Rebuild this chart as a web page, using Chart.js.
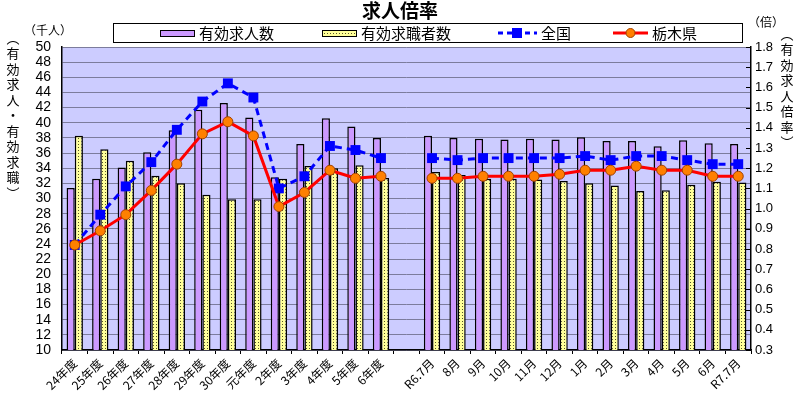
<!DOCTYPE html>
<html>
<head>
<meta charset="utf-8">
<script src="https://cdn.jsdelivr.net/npm/chart.js@4"></script>
<style>
  html, body { margin: 0; padding: 0; background: #fff; }
  #wrap { width: 800px; height: 399px; position: relative; }
</style>
</head>
<body>
<div id="wrap"><canvas id="chart" width="800" height="399"></canvas></div>
<script>
const categories = ['24年度', '25年度', '26年度', '27年度', '28年度', '29年度', '30年度', '元年度', '2年度', '3年度', '4年度', '5年度', '6年度', '',
  'R6.7月', '8月', '9月', '10月', '11月', '12月', '1月', '2月', '3月', '4月', '5月', '6月', 'R7.7月'];

// 千人
const jobOffers = [31.4, 32.6, 34.1, 36.1, 39.0, 41.7, 42.6, 40.7, 32.8, 37.2, 40.6, 39.5, 38.0, null,
  38.3, 38.0, 37.9, 37.8, 37.9, 37.8, 38.1, 37.6, 37.6, 36.9, 37.7, 37.3, 37.2];
const jobSeekers = [38.3, 36.5, 35.0, 33.0, 32.0, 30.5, 29.9, 29.9, 32.6, 34.3, 34.0, 34.4, 32.7, null,
  33.5, 33.1, 32.6, 32.6, 32.5, 32.3, 32.0, 31.7, 31.0, 31.1, 31.8, 32.2, 32.1];

// 倍
const nationalRatio = [0.82, 0.97, 1.11, 1.23, 1.39, 1.53, 1.62, 1.55, 1.10, 1.16, 1.31, 1.29, 1.25, null,
  1.25, 1.24, 1.25, 1.25, 1.25, 1.25, 1.26, 1.24, 1.26, 1.26, 1.24, 1.22, 1.22];
const tochigiRatio = [0.82, 0.89, 0.97, 1.09, 1.22, 1.37, 1.43, 1.36, 1.01, 1.08, 1.19, 1.15, 1.16, null,
  1.15, 1.15, 1.16, 1.16, 1.16, 1.17, 1.19, 1.19, 1.21, 1.19, 1.19, 1.16, 1.16];

const FONT = '"Liberation Sans", Arial, "Noto Sans CJK JP", sans-serif';
const JP_FONT = '"Noto Sans CJK JP", "Liberation Sans", sans-serif';

function makeDotPattern() {
  const c = document.createElement('canvas');
  c.width = 3;
  c.height = 3;
  const g = c.getContext('2d');
  g.fillStyle = '#FFFF99';
  g.fillRect(0, 0, 3, 3);
  g.fillStyle = '#55552a';
  g.fillRect(0, 0, 1, 1);
  return g.createPattern(c, 'repeat');
}

const ctx = document.getElementById('chart').getContext('2d');
const dotPattern = makeDotPattern();

function drawVertical(c, text, x, y, step) {
  for (let i = 0; i < text.length; i++) {
    c.fillText(text[i], x, y + i * step);
  }
}

const decorPlugin = {
  id: 'decor',
  beforeDraw(chart) {
    const { ctx: c, chartArea: a } = chart;
    c.save();
    c.fillStyle = '#CCCCFF';
    c.fillRect(a.left, a.top, a.right - a.left, a.bottom - a.top);
    c.restore();
  },
  afterDraw(chart) {
    const c = chart.ctx;
    const a = chart.chartArea;
    c.save();

    // right axis inner ticks
    const y2 = chart.scales.y2;
    c.strokeStyle = '#000';
    c.lineWidth = 1;
    y2.ticks.forEach((t) => {
      const py = Math.round(y2.getPixelForValue(t.value)) + 0.5;
      c.beginPath();
      c.moveTo(a.right - 5, py);
      c.lineTo(a.right, py);
      c.stroke();
    });

    // title
    c.fillStyle = '#000';
    c.font = 'bold 19px ' + JP_FONT;
    c.textAlign = 'center';
    c.textBaseline = 'middle';
    c.fillText('求人倍率', 400, 11);

    // legend box
    c.strokeStyle = '#000';
    c.lineWidth = 1;
    c.strokeRect(113.5, 23.5, 629, 19);
    c.font = '15px ' + JP_FONT;
    c.textAlign = 'left';
    c.textBaseline = 'middle';
    const ly = 33;

    c.fillStyle = '#CC99FF';
    c.fillRect(160, 30, 34, 6);
    c.strokeRect(160.5, 30.5, 34, 6);
    c.fillStyle = '#000';
    c.fillText('有効求人数', 199, ly);

    c.fillStyle = dotPattern;
    c.fillRect(322, 30, 34, 6);
    c.strokeRect(322.5, 30.5, 34, 6);
    c.fillStyle = '#000';
    c.fillText('有効求職者数', 361, ly);

    c.strokeStyle = '#0000FF';
    c.lineWidth = 3;
    c.setLineDash([5, 4]);
    c.beginPath();
    c.moveTo(498, ly);
    c.lineTo(537, ly);
    c.stroke();
    c.setLineDash([]);
    c.fillStyle = '#0000FF';
    c.fillRect(512, ly - 5, 10, 10);
    c.fillStyle = '#000';
    c.fillText('全国', 541, ly);

    c.strokeStyle = '#FF0000';
    c.beginPath();
    c.moveTo(613, ly);
    c.lineTo(648, ly);
    c.stroke();
    c.fillStyle = '#FF8000';
    c.strokeStyle = '#A04000';
    c.lineWidth = 1;
    c.beginPath();
    c.arc(630.5, ly, 4.5, 0, Math.PI * 2);
    c.fill();
    c.stroke();
    c.fillStyle = '#000';
    c.fillText('栃木県', 652, ly);

    // axis unit labels
    c.font = '12px ' + JP_FONT;
    c.textAlign = 'left';
    c.fillText('（千人）', 24, 30);
    c.fillText('（倍）', 748, 22);

    c.textAlign = 'center';
    c.font = '13px ' + JP_FONT;
    drawVertical(c, '︵有効求人・有効求職︶', 13, 38, 15.5);
    drawVertical(c, '︵有効求人倍率︶', 787, 34, 15.5);

    c.restore();
  },
};

new Chart(ctx, {
  type: 'bar',
  data: {
    labels: categories,
    datasets: [
      {
        label: '全国',
        type: 'line',
        data: nationalRatio,
        yAxisID: 'y2',
        borderColor: '#0000FF',
        borderWidth: 3,
        borderDash: [7, 5],
        pointStyle: 'rect',
        pointRadius: 7,
        pointBackgroundColor: '#0000FF',
        pointBorderColor: '#0000FF',
        pointBorderWidth: 0,
        spanGaps: false,
        order: 1,
      },
      {
        label: '栃木県',
        type: 'line',
        data: tochigiRatio,
        yAxisID: 'y2',
        borderColor: '#FF0000',
        borderWidth: 3,
        pointStyle: 'circle',
        pointRadius: 5,
        pointBackgroundColor: '#FF8000',
        pointBorderColor: '#A04000',
        pointBorderWidth: 1,
        spanGaps: false,
        order: 0,
      },
      {
        label: '有効求人数',
        data: jobOffers,
        yAxisID: 'y',
        backgroundColor: '#CC99FF',
        borderColor: '#000',
        borderWidth: 1.5,
        borderSkipped: false,
        categoryPercentage: 0.64,
        barPercentage: 1.0,
        order: 2,
      },
      {
        label: '有効求職者数',
        data: jobSeekers,
        yAxisID: 'y',
        backgroundColor: dotPattern,
        borderColor: '#000',
        borderWidth: 1.5,
        borderSkipped: false,
        categoryPercentage: 0.64,
        barPercentage: 1.0,
        order: 2,
      },
    ],
  },
  options: {
    responsive: false,
    animation: false,
    layout: { padding: { top: 47, left: 0, right: 0, bottom: 0 } },
    plugins: {
      legend: { display: false },
      title: { display: false },
      tooltip: { enabled: false },
    },
    scales: {
      x: {
        offset: true,
        grid: { display: true, drawOnChartArea: false, offset: true, tickLength: 4, color: '#000' },
        border: { color: '#000', width: 1.5 },
        ticks: {
          autoSkip: false,
          minRotation: 45,
          maxRotation: 45,
          color: '#000',
          padding: 2,
          font: { size: 12, family: JP_FONT },
        },
        afterFit(scale) {
          scale.height = 49;
        },
      },
      y: {
        position: 'left',
        min: 10,
        max: 50,
        ticks: {
          stepSize: 2,
          autoSkip: false,
          color: '#000',
          padding: 11,
          font: { size: 14, family: FONT },
        },
        grid: { color: '#7c7c9c', lineWidth: 1, drawTicks: false },
        border: { color: '#000', width: 1.5 },
        afterFit(scale) {
          scale.width = 62;
        },
      },
      y2: {
        position: 'right',
        min: 0.3,
        max: 1.8,
        ticks: {
          stepSize: 0.1,
          autoSkip: false,
          color: '#000',
          padding: 4,
          font: { size: 13, family: FONT },
          callback: (v) => Number(v).toFixed(1),
        },
        grid: { drawOnChartArea: false, drawTicks: false },
        border: { color: '#000', width: 1.5 },
        afterFit(scale) {
          scale.width = 49;
        },
      },
    },
  },
  plugins: [decorPlugin],
});
</script>
</body>
</html>
